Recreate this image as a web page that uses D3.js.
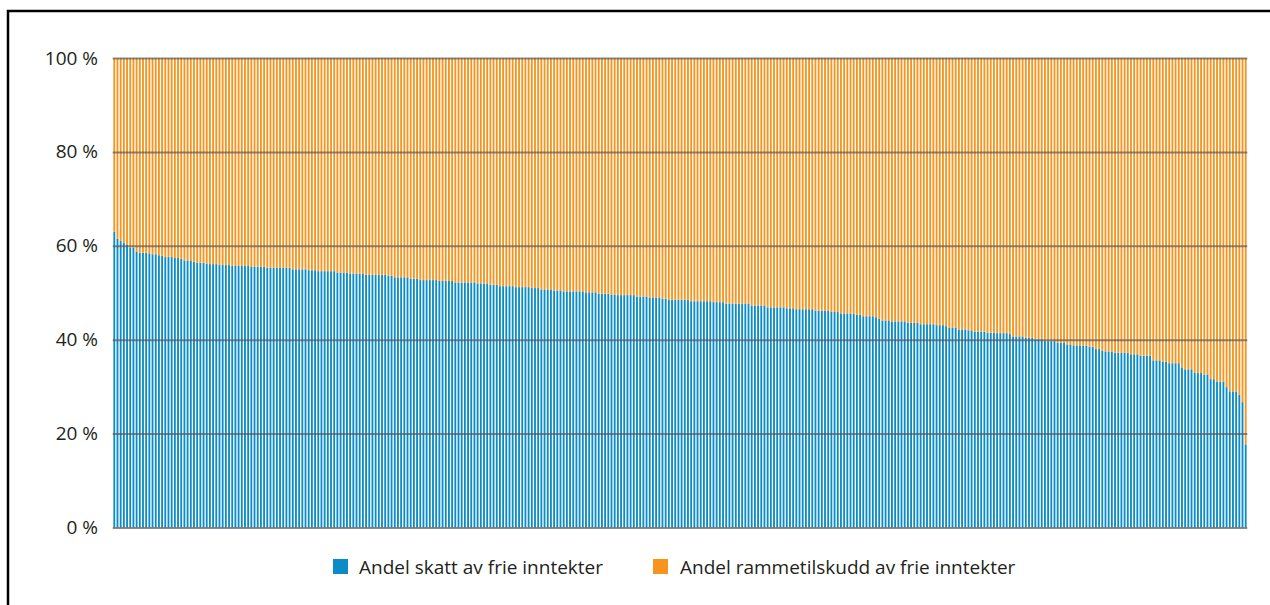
<!DOCTYPE html>
<html>
<head>
<meta charset="utf-8">
<script src="https://cdn.jsdelivr.net/npm/d3@7/dist/d3.min.js"></script>
<style>
  html, body { margin: 0; padding: 0; background: #fff; overflow: hidden; }
  svg { display: block; }
  text { font-family: "Open Sans", "Noto Sans", sans-serif; fill: #231f20; }
</style>
</head>
<body>
<svg id="chart" width="1270" height="605"></svg>
<script>
// Share of tax in free income, per municipality (sorted descending), in %
const skatt = [
  63.0, 61.5, 61.0, 60.7, 60.3, 59.6, 59.6, 58.8, 58.5, 58.5,
  58.5, 58.4, 58.2, 58.2, 58.0, 57.9, 57.6, 57.6, 57.6, 57.4,
  57.4, 57.2, 56.9, 56.9, 56.9, 56.6, 56.4, 56.4, 56.4, 56.2,
  56.1, 56.1, 56.1, 55.9, 55.9, 55.9, 55.9, 55.8, 55.7, 55.7,
  55.7, 55.7, 55.7, 55.6, 55.5, 55.5, 55.5, 55.5, 55.3, 55.3,
  55.3, 55.3, 55.3, 55.3, 55.3, 55.3, 55.0, 55.0, 55.0, 55.0,
  55.0, 54.8, 54.8, 54.8, 54.6, 54.6, 54.6, 54.6, 54.6, 54.6,
  54.3, 54.3, 54.3, 54.3, 54.1, 54.1, 54.1, 54.1, 54.0, 53.8,
  53.8, 53.8, 53.8, 53.8, 53.8, 53.8, 53.6, 53.6, 53.3, 53.3,
  53.3, 53.3, 53.3, 53.0, 53.0, 53.0, 52.7, 52.7, 52.7, 52.7,
  52.7, 52.7, 52.5, 52.5, 52.5, 52.5, 52.5, 52.2, 52.2, 52.2,
  52.2, 52.2, 52.2, 52.2, 52.0, 52.0, 52.0, 52.0, 51.7, 51.7,
  51.7, 51.4, 51.4, 51.4, 51.4, 51.4, 51.2, 51.2, 51.2, 51.2,
  51.2, 51.0, 51.0, 51.0, 50.7, 50.7, 50.7, 50.7, 50.5, 50.5,
  50.5, 50.3, 50.3, 50.3, 50.3, 50.3, 50.3, 50.3, 50.1, 50.1,
  50.1, 50.1, 49.8, 49.8, 49.8, 49.8, 49.6, 49.6, 49.5, 49.5,
  49.5, 49.5, 49.5, 49.5, 49.2, 49.2, 49.2, 49.2, 49.0, 49.0,
  49.0, 49.0, 48.7, 48.7, 48.5, 48.5, 48.5, 48.5, 48.5, 48.5,
  48.5, 48.2, 48.2, 48.2, 48.2, 48.2, 48.2, 48.2, 48.0, 48.0,
  48.0, 48.0, 47.7, 47.7, 47.7, 47.7, 47.7, 47.7, 47.7, 47.7,
  47.3, 47.3, 47.3, 47.3, 47.3, 46.9, 46.9, 46.9, 46.9, 46.9,
  46.9, 46.7, 46.7, 46.7, 46.5, 46.5, 46.5, 46.5, 46.5, 46.5,
  46.2, 46.2, 46.2, 46.2, 46.2, 45.9, 45.9, 45.9, 45.6, 45.6,
  45.6, 45.6, 45.5, 45.3, 45.3, 45.0, 45.0, 45.0, 45.0, 44.8,
  44.5, 44.1, 44.1, 44.1, 43.9, 43.9, 43.9, 43.9, 43.9, 43.6,
  43.6, 43.6, 43.6, 43.3, 43.3, 43.3, 43.3, 43.3, 43.1, 43.1,
  43.1, 42.9, 42.5, 42.5, 42.5, 42.2, 42.2, 42.2, 42.0, 42.0,
  41.7, 41.7, 41.7, 41.7, 41.5, 41.5, 41.5, 41.4, 41.4, 41.4,
  41.4, 41.2, 40.7, 40.7, 40.7, 40.7, 40.4, 40.4, 40.4, 40.1,
  40.1, 40.1, 39.7, 39.7, 39.7, 39.7, 39.3, 39.3, 39.3, 39.0,
  39.0, 38.8, 38.8, 38.8, 38.7, 38.7, 38.5, 38.5, 38.0, 38.0,
  37.7, 37.5, 37.5, 37.5, 37.2, 37.2, 37.2, 37.2, 37.2, 36.9,
  36.9, 36.9, 36.6, 36.6, 36.6, 36.6, 35.6, 35.6, 35.6, 35.3,
  35.3, 35.0, 35.0, 35.0, 35.0, 34.1, 33.7, 33.7, 33.7, 32.9,
  32.9, 32.9, 32.6, 32.6, 31.6, 31.6, 31.1, 31.1, 31.1, 29.9,
  29.0, 29.0, 29.0, 28.3, 26.7, 17.7
];
// Share of block grant (rammetilskudd) = remainder to 100 %
const rammetilskudd = skatt.map(v => 100 - v);
// Categories: municipalities (anonymous, sorted)
const kommuner = skatt.map((_, i) => i);
const yTicks = [0, 20, 40, 60, 80, 100];
const seriesNames = ["Andel skatt av frie inntekter", "Andel rammetilskudd av frie inntekter"];
const colors = ["#0b8cc7", "#f7941d"];

const svg = d3.select("#chart");

// frame (top and left edges; the rest runs off the page)
svg.append("path")
  .attr("d", "M8,605 L8,11 L1270,11")
  .attr("fill", "none").attr("stroke", "#000").attr("stroke-width", 2.5);

const plotL = 112.7, plotR = 1247.3, plotT = 58, plotB = 527.5;

const x = d3.scaleBand().domain(kommuner).range([plotL, plotR])
  .paddingInner(0.42).paddingOuter(0.21);
const y = d3.scaleLinear().domain([0, 100]).range([plotB, plotT]);

const rows = kommuner.map(i => ({ i, skatt: skatt[i], ramme: rammetilskudd[i] }));
const stacked = d3.stack().keys(["skatt", "ramme"])(rows);

const g = svg.append("g");
g.selectAll("g.series").data(stacked).join("g")
  .attr("class", "series")
  .attr("fill", (d, k) => colors[k])
  .selectAll("rect").data(d => d).join("rect")
  .attr("x", d => x(d.data.i))
  .attr("width", x.bandwidth())
  .attr("y", d => y(d[1]))
  .attr("height", d => y(d[0]) - y(d[1]));

// grid lines + labels on top
const axis = d3.axisLeft(y).tickValues(yTicks)
  .tickSize(-(plotR - plotL)).tickPadding(14)
  .tickFormat(d => d + " %");
const ag = svg.append("g").attr("transform", `translate(${plotL},0)`).call(axis);
ag.select(".domain").remove();
ag.selectAll(".tick line")
  .attr("stroke", "#5a5a5a").attr("stroke-opacity", 0.7).attr("stroke-width", 2);
ag.selectAll(".tick text")
  .attr("x", 98 - plotL)
  .style("font-size", "19px")
  .style("font-family", "'Open Sans', sans-serif")
  .attr("fill", "#231f20");

// legend
const legendItems = [
  { name: seriesNames[0], color: colors[0], sx: 333, tx: 359 },
  { name: seriesNames[1], color: colors[1], sx: 653, tx: 680 }
];
const lg = svg.append("g");
legendItems.forEach(it => {
  lg.append("rect").attr("x", it.sx).attr("y", 559).attr("width", 15).attr("height", 15)
    .attr("fill", it.color);
  lg.append("text").attr("x", it.tx).attr("y", 574)
    .style("font-size", "19px").text(it.name);
});
</script>
</body>
</html>
